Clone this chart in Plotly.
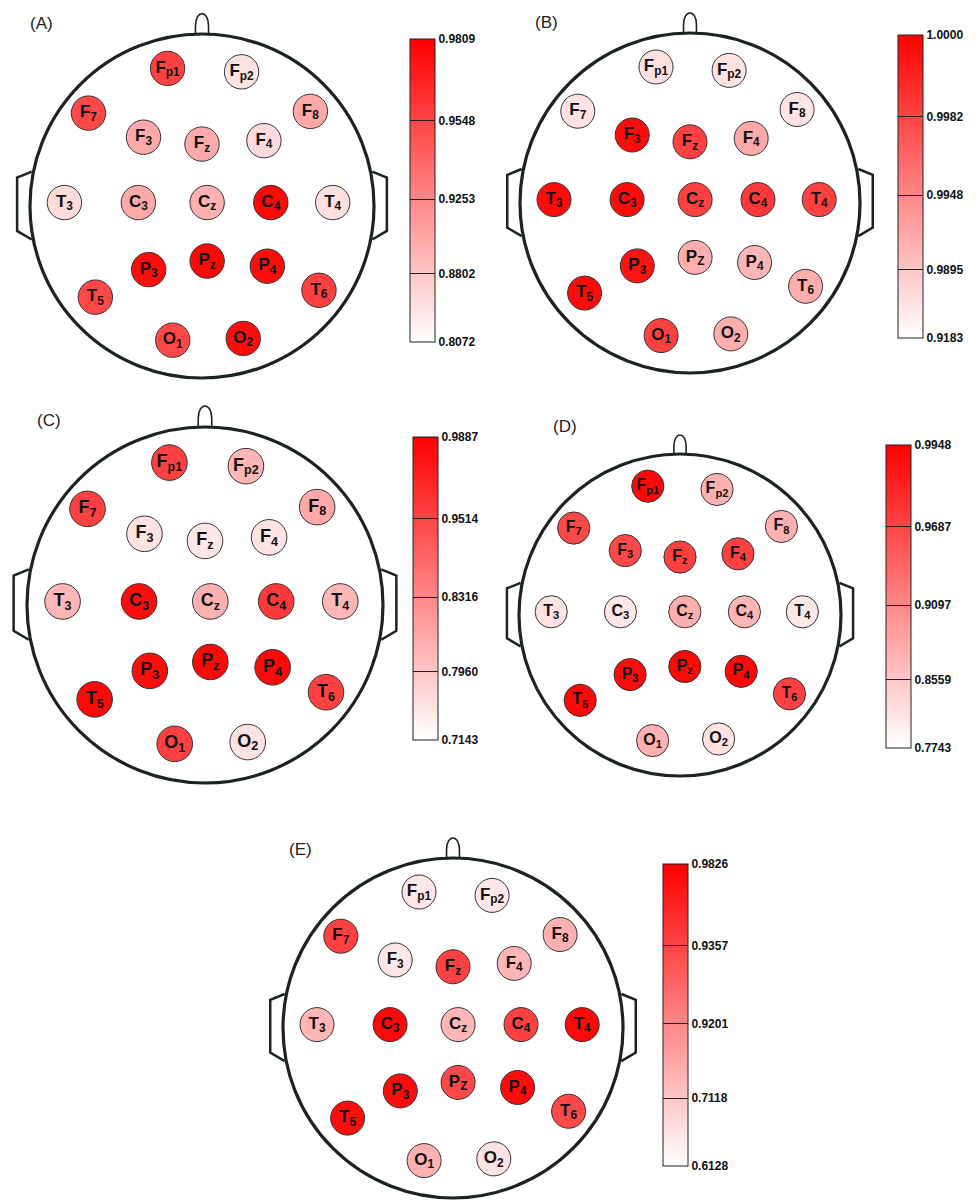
import numpy as np
import plotly.graph_objects as go

# ---------------- data ----------------
electrodes = ["Fp1", "Fp2", "F7", "F8", "F3", "Fz", "F4", "T3", "C3", "Cz",
              "C4", "T4", "P3", "Pz", "P4", "T5", "T6", "O1", "O2"]

values_A = [0.9563, 0.8437, 0.9531, 0.9009, 0.9009, 0.8990, 0.8528, 0.8528, 0.9009, 0.8952,
            0.9779, 0.8467, 0.9760, 0.9779, 0.9760, 0.9531, 0.9563, 0.9531, 0.9760]
ticks_A = [0.8072, 0.8802, 0.9253, 0.9548, 0.9809]

values_B = [0.9560, 0.9530, 0.9545, 0.9510, 0.9997, 0.9983, 0.9919, 0.9997, 0.9997, 0.9983,
            0.9985, 0.9983, 0.9995, 0.9915, 0.9908, 0.9997, 0.9915, 0.9983, 0.9915]
ticks_B = [0.9183, 0.9895, 0.9948, 0.9982, 1.0000]

values_C = [0.9535, 0.8049, 0.9535, 0.8123, 0.7551, 0.7480, 0.7551, 0.8049, 0.9817, 0.8079,
            0.9577, 0.8049, 0.9817, 0.9845, 0.9845, 0.9845, 0.9535, 0.9535, 0.7551]
ticks_C = [0.7143, 0.7960, 0.8316, 0.9514, 0.9887]

values_D = [0.9918, 0.8738, 0.9652, 0.8738, 0.9652, 0.9702, 0.9702, 0.8151, 0.8083, 0.8761,
            0.8694, 0.8083, 0.9899, 0.9918, 0.9918, 0.9918, 0.9702, 0.8738, 0.8151]
ticks_D = [0.7743, 0.8559, 0.9097, 0.9687, 0.9948]

values_E = [0.6541, 0.6541, 0.9384, 0.7812, 0.6541, 0.9384, 0.7639, 0.7639, 0.9773, 0.7639,
            0.9384, 0.9773, 0.9738, 0.9348, 0.9738, 0.9738, 0.9348, 0.7812, 0.6623]
ticks_E = [0.6128, 0.7118, 0.9201, 0.9357, 0.9826]

panel_names = ["(A)", "(B)", "(C)", "(D)", "(E)"]
pz_names = ["Pz", "PZ", "Pz", "Pz", "PZ"]

# ---------------- layout / style ----------------
# normalized electrode montage (x right, y up, unit = head radius)
EL_X = [-0.20, 0.23, -0.66, 0.63, -0.34, 0.00, 0.36, -0.80, -0.37, 0.03,
        0.40, 0.76, -0.31, 0.03, 0.38, -0.62, 0.68, -0.17, 0.24]
EL_Y = [0.80, 0.78, 0.54, 0.55, 0.40, 0.36, 0.38, 0.02, 0.02, 0.02,
        0.02, 0.02, -0.37, -0.32, -0.35, -0.53, -0.49, -0.78, -0.77]

BAND_POS = [0.0, 0.225, 0.471, 0.73, 1.0]

panels = [
    dict(cx=202, cy=206, r=172, cbl=410, cbt=39, cbb=342, lab=(41, 23)),
    dict(cx=690, cy=203, r=170, cbl=898, cbt=35, cbb=338, lab=(546, 22)),
    dict(cx=205, cy=605, r=178, cbl=413, cbt=437, cbb=740, lab=(49, 420)),
    dict(cx=680, cy=615, r=161, cbl=886, cbt=445, cbb=748, lab=(565, 426)),
    dict(cx=453, cy=1028, r=170, cbl=663, cbt=864, cbb=1166, lab=(300, 849)),
]

W, H = 977, 1200
HEAD_COL = "#1c2420"
FONT = "Arial, Liberation Sans, sans-serif"

all_values = [values_A, values_B, values_C, values_D, values_E]
all_ticks = [ticks_A, ticks_B, ticks_C, ticks_D, ticks_E]


def label_html(name):
    return "<b>%s<sub>%s</sub></b>" % (name[0], name[1:])


fig = go.Figure()
shapes = []
annotations = []

for i, p in enumerate(panels):
    cx, cy, r = p["cx"], p["cy"], p["r"]
    vals = np.array(all_values[i])
    ticks = all_ticks[i]
    pos = np.interp(vals, ticks, BAND_POS)

    names = list(electrodes)
    names[electrodes.index("Pz")] = pz_names[i]
    xs = [cx + r * x for x in EL_X]
    ys = [cy - r * y for y in EL_Y]

    # head outline
    shapes.append(dict(type="circle", xref="x", yref="y", layer="below",
                       x0=cx - r, x1=cx + r, y0=cy - r, y1=cy + r,
                       line=dict(color=HEAD_COL, width=3.2), fillcolor="white"))
    # nose
    top = cy - r
    w = 0.076 * r
    h = 0.118 * r
    nose = ("M %f,%f L %f,%f C %f,%f %f,%f %f,%f L %f,%f" %
            (cx - w / 2, top + 1, cx - w / 2, top - 0.4 * h,
             cx - w / 2, top - 1.2 * h, cx + w / 2, top - 1.2 * h,
             cx + w / 2, top - 0.4 * h, cx + w / 2, top + 1))
    shapes.append(dict(type="path", xref="x", yref="y", layer="below", path=nose,
                       line=dict(color=HEAD_COL, width=1.6)))
    # ears
    ear = [(-0.99, -0.20), (-1.075, -0.165), (-1.075, 0.145), (-0.99, 0.195)]
    for side in (-1, 1):
        pts = [(cx + (dx * r if side == -1 else -dx * r), cy + dy * r) for dx, dy in ear]
        path = "M " + " L ".join("%f,%f" % q for q in pts)
        shapes.append(dict(type="path", xref="x", yref="y", layer="below", path=path,
                           line=dict(color=HEAD_COL, width=2.5)))

    cb_len = p["cbb"] - p["cbt"]
    fig.add_trace(go.Scatter(
        x=xs, y=ys, mode="markers+text",
        text=[label_html(n) for n in names],
        textposition="middle center",
        textfont=dict(family=FONT, size=round(0.1 * r), color="#111"),
        marker=dict(size=0.2 * r, color=pos, colorscale=[[0, "#ffffff"], [1, "#ff0000"]],
                    cmin=0, cmax=1, line=dict(color="#333333", width=1),
                    showscale=True,
                    colorbar=dict(
                        x=p["cbl"] / W, xanchor="left", xpad=0,
                        y=1 - p["cbt"] / H, yanchor="top", ypad=0,
                        len=cb_len, lenmode="pixels", thickness=25,
                        outlinewidth=1, outlinecolor="#222222",
                        tickmode="array", tickvals=BAND_POS,
                        ticktext=["%.4f" % t for t in ticks],
                        ticks="inside", ticklen=25, tickwidth=1, tickcolor="#222222",
                        tickfont=dict(family=FONT, size=12, color="#111", weight="bold"),
                    )),
        hoverinfo="skip", showlegend=False,
    ))

    annotations.append(dict(x=p["lab"][0], y=p["lab"][1], xref="x", yref="y",
                            text=panel_names[i], showarrow=False,
                            font=dict(family=FONT, size=17, color="#222")))

fig.update_layout(
    width=W, height=H,
    margin=dict(l=0, r=0, t=0, b=0, autoexpand=False),
    paper_bgcolor="white", plot_bgcolor="white",
    xaxis=dict(range=[0, W], visible=False, fixedrange=True),
    yaxis=dict(range=[H, 0], visible=False, fixedrange=True),
    shapes=shapes, annotations=annotations,
)

fig.write_html("out.html", config={"displayModeBar": False},
               post_script="document.body.style.margin='0';")
